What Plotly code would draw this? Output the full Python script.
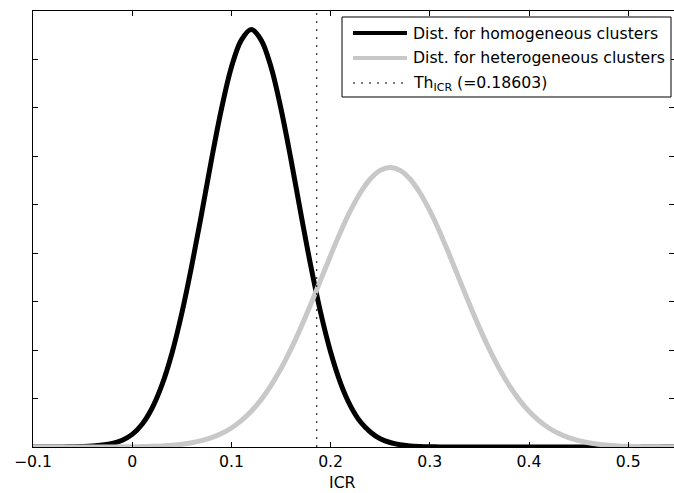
import plotly.graph_objects as go

# ---------------- data ----------------
icr = [-0.10, -0.09, -0.08, -0.07, -0.06, -0.05, -0.04, -0.03, -0.02, -0.01,
       0.00, 0.01, 0.02, 0.03, 0.04, 0.05, 0.06, 0.07, 0.08, 0.09,
       0.10, 0.11, 0.12, 0.13, 0.14, 0.15, 0.16, 0.17, 0.18, 0.19,
       0.20, 0.21, 0.22, 0.23, 0.24, 0.25, 0.26, 0.27, 0.28, 0.29,
       0.30, 0.31, 0.32, 0.33, 0.34, 0.35, 0.36, 0.37, 0.38, 0.39,
       0.40, 0.41, 0.42, 0.43, 0.44, 0.45, 0.46, 0.47, 0.48, 0.49,
       0.50, 0.51, 0.52, 0.53, 0.54, 0.55]

homogeneous = [0.0, 0.0003, 0.0008, 0.002, 0.005, 0.010, 0.020, 0.040, 0.075, 0.14,
               0.26, 0.47, 0.80, 1.28, 1.93, 2.76, 3.74, 4.82, 5.94, 6.98,
               7.84, 8.40, 8.62, 8.40, 7.84, 6.98, 5.94, 4.82, 3.74, 2.77,
               1.96, 1.32, 0.85, 0.52, 0.31, 0.17, 0.093, 0.047, 0.023, 0.011,
               0.005, 0.002, 0.0008, 0.0003, 0.0, 0.0, 0.0, 0.0, 0.0, 0.0,
               0.0, 0.0, 0.0, 0.0, 0.0, 0.0, 0.0, 0.0, 0.0, 0.0,
               0.0, 0.0, 0.0, 0.0, 0.0, 0.0]

heterogeneous = [0.0, 0.0, 0.0, 0.0, 0.0001, 0.0002, 0.0005, 0.0009, 0.0015, 0.0028,
                 0.0048, 0.0081, 0.0136, 0.0223, 0.0358, 0.056, 0.086, 0.130, 0.192, 0.277,
                 0.392, 0.543, 0.737, 0.978, 1.272, 1.619, 2.019, 2.464, 2.946, 3.449,
                 3.954, 4.438, 4.877, 5.249, 5.533, 5.710, 5.770, 5.710, 5.533, 5.249,
                 4.877, 4.438, 3.954, 3.449, 2.946, 2.464, 2.019, 1.619, 1.272, 0.978,
                 0.737, 0.543, 0.392, 0.277, 0.192, 0.130, 0.086, 0.056, 0.036, 0.022,
                 0.014, 0.008, 0.005, 0.003, 0.0015, 0.0008]

threshold = 0.18603
y_top = 9

x_tick_vals = [-0.1, 0.0, 0.1, 0.2, 0.3, 0.4, 0.5]
x_tick_text = ["\u22120.1", "0", "0.1", "0.2", "0.3", "0.4", "0.5"]

legend_labels = ["Dist. for homogeneous clusters",
                 "Dist. for heterogeneous clusters",
                 "Th<sub>ICR</sub> (=0.18603)"]

# ---------------- figure ----------------
FONT = "DejaVu Sans, Liberation Sans, Arial, sans-serif"
BLACK = "#000000"
GRAY = "#c8c8c8"

fig = go.Figure()
fig.add_trace(go.Scatter(x=icr, y=homogeneous, mode="lines",
                         line=dict(color=BLACK, width=5, shape="spline"),
                         showlegend=False, hoverinfo="skip"))
fig.add_trace(go.Scatter(x=icr, y=heterogeneous, mode="lines",
                         line=dict(color=GRAY, width=5, shape="spline"),
                         showlegend=False, hoverinfo="skip"))
fig.add_trace(go.Scatter(x=[threshold, threshold], y=[0, y_top], mode="lines",
                         line=dict(color=BLACK, width=1, dash="2px,6px"),
                         showlegend=False, hoverinfo="skip"))

W, H = 674, 493
ml, mr, mt, mb = 33, 0, 11, 46
pw, ph = W - ml - mr, H - mt - mb


def px(p):
    return (p - ml) / pw


def py(q):
    return (mt + ph - q) / ph


shapes = []
annotations = []
# manual legend
shapes.append(dict(type="rect", xref="paper", yref="paper",
                   x0=px(342), x1=px(671), y0=py(97), y1=py(17),
                   line=dict(color=BLACK, width=1), fillcolor="white", layer="above"))
rows = [33, 58, 83]
styles = [dict(color=BLACK, width=4), dict(color=GRAY, width=4),
          dict(color=BLACK, width=1, dash="2px,6px")]
for r, st, lab in zip(rows, styles, legend_labels):
    shapes.append(dict(type="line", xref="paper", yref="paper",
                       x0=px(353), x1=px(407), y0=py(r), y1=py(r), line=st, layer="above"))
    annotations.append(dict(xref="paper", yref="paper", x=px(411), y=py(r),
                            xanchor="left", yanchor="middle", showarrow=False,
                            text=lab, font=dict(family=FONT, size=15.7, color=BLACK)))

annotations.append(dict(xref="paper", yref="paper", x=px(342), y=py(482),
                        xanchor="center", yanchor="middle", showarrow=False,
                        text="ICR", font=dict(family=FONT, size=15.7, color=BLACK)))

fig.update_layout(
    width=W, height=H,
    margin=dict(l=ml, r=mr, t=mt, b=mb, pad=0),
    paper_bgcolor="white", plot_bgcolor="white",
    font=dict(family=FONT, size=15.7, color=BLACK),
    shapes=shapes, annotations=annotations,
    showlegend=False,
    xaxis=dict(range=[-0.1, -0.1 + 0.1 * pw / 99.2], tickmode="array",
               tickvals=x_tick_vals, ticktext=x_tick_text,
               ticks="inside", ticklen=5, tickwidth=1, tickcolor=BLACK,
               showline=True, linecolor=BLACK, linewidth=1, mirror="allticks",
               showgrid=False, zeroline=False,
               tickfont=dict(family=FONT, size=15.7, color=BLACK)),
    yaxis=dict(range=[0, y_top], tickmode="linear", tick0=0, dtick=1,
               showticklabels=False,
               ticks="inside", ticklen=5, tickwidth=1, tickcolor=BLACK,
               showline=True, linecolor=BLACK, linewidth=1, mirror="allticks",
               showgrid=False, zeroline=False),
)

fig.write_html("out.html")
